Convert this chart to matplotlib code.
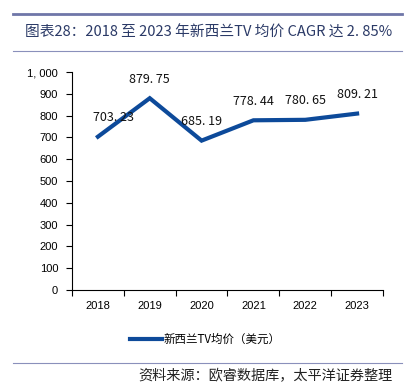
import matplotlib.pyplot as plt
import numpy as np
from matplotlib.lines import Line2D
from matplotlib.ticker import FuncFormatter

plt.rcParams['font.family'] = ['Noto Sans CJK SC', 'DejaVu Sans']

years = ['2018', '2019', '2020', '2021', '2022', '2023']
price = [703.23, 879.75, 685.19, 778.44, 780.65, 809.21]

fig = plt.figure(figsize=(4.12, 3.86), dpi=100)
ax = fig.add_axes([72 / 412, 1 - 290 / 386, (383 - 72) / 412, (290 - 72) / 386])

x = np.arange(len(years))
ax.plot(x, price, color='#0d4a9a', lw=3, solid_joinstyle='miter')

for i, v in enumerate(price):
    dx = 11 if i == 0 else 0
    ax.annotate(f'{v:.2f}'.replace('.', '. '), (i, v), xytext=(dx, 9),
                textcoords='offset points', ha='center', va='bottom',
                fontsize=9, color='#111111')

ax.set_xlim(-0.5, 5.5)
ax.set_ylim(0, 1000)
ax.set_yticks(range(0, 1001, 100))
ax.yaxis.set_major_formatter(FuncFormatter(lambda v, p: f'{int(v):,}'.replace(',', ', ')))
ax.set_xticks(np.arange(-0.5, 6, 1))
ax.set_xticklabels([])
ax.set_xticks(x, minor=True)
ax.set_xticklabels(years, minor=True)
ax.tick_params(axis='x', which='minor', length=0, pad=8, labelsize=8)
ax.tick_params(axis='x', which='major', length=4, direction='out', width=0.8)
ax.tick_params(axis='y', length=4, direction='out', width=0.8, labelsize=8, pad=6)
for lab in ax.get_xticklabels(minor=True) + ax.get_yticklabels():
    lab.set_family(['Liberation Sans', 'DejaVu Sans'])
ax.spines['top'].set_visible(False)
ax.spines['right'].set_visible(False)

# legend
fig.add_artist(Line2D([130 / 412, 162 / 412], [1 - 339 / 386] * 2, color='#0d4a9a', lw=3))
fig.text(164 / 412, 1 - 339 / 386, '新西兰TV均价（美元）', fontsize=8.3, va='center', ha='left')

# header / footer
fig.add_artist(Line2D([13 / 412, 402 / 412], [1 - 14 / 386] * 2, color='#6f76a8', lw=2))
fig.add_artist(Line2D([13 / 412, 402 / 412], [1 - 51 / 386] * 2, color='#8a90bb', lw=0.8))
fig.text(25 / 412, 1 - 33 / 386, '图表28：2018 至 2023 年新西兰TV 均价 CAGR 达 2. 85%',
         fontsize=10.6, color='#2b3a67', va='center', ha='left')
fig.add_artist(Line2D([13 / 412, 402 / 412], [1 - 363 / 386] * 2, color='#8a90bb', lw=0.8))
fig.text(393 / 412, 1 - 376 / 386, '资料来源：欧睿数据库，太平洋证券整理',
         fontsize=10.2, color='#222222', va='center', ha='right')

fig.savefig('out.png', dpi=100)
